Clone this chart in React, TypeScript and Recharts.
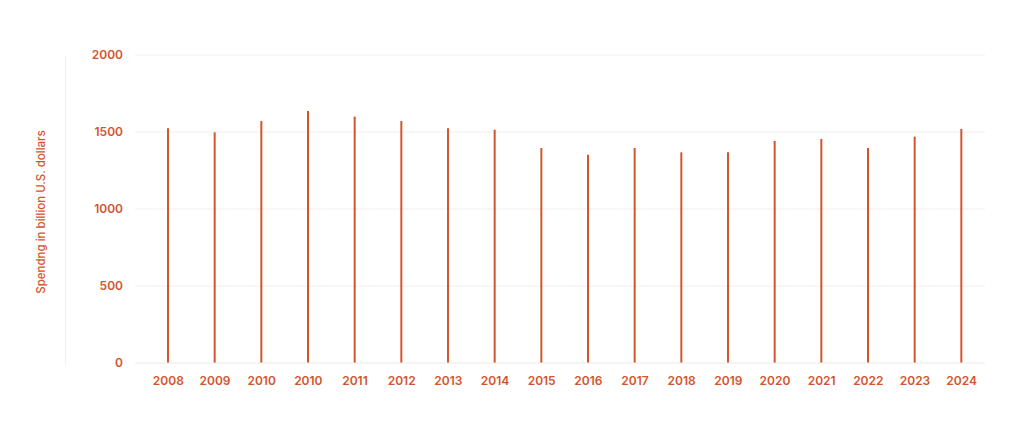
import { BarChart, Bar, XAxis, YAxis, CartesianGrid } from 'recharts';

const years = [
    '2008', '2009', '2010', '2010', '2011', '2012', '2013', '2014', '2015',
    '2016', '2017', '2018', '2019', '2020', '2021', '2022', '2023', '2024',
];
const spending = [
    1524, 1498, 1571, 1636, 1600, 1571, 1524, 1515, 1396,
    1353, 1396, 1368, 1368, 1442, 1455, 1396, 1470, 1520,
];
const yTicks = [0, 500, 1000, 1500, 2000];

const accent = '#d3552d';
const faint = '#f3efec';

export default function App() {
    const chartData = years.map((year, i) => ({ year, value: spending[i] }));

    return (
        <div style={{ position: 'absolute', left: 0, top: 0, width: 1024, height: 427, background: '#fff' }}>
            {/* faint rule on the left of the tick labels */}
            <div style={{ position: 'absolute', left: 65, top: 56, height: 309, borderLeft: `1px solid ${faint}` }} />
            <BarChart
                width={1024}
                height={427}
                data={chartData}
                margin={{ top: 55, right: 39, bottom: 34, left: 20 }}
                style={{ fontFamily: 'Inter, sans-serif' }}
            >
                <CartesianGrid vertical={false} stroke={faint} />
                <XAxis
                    dataKey="year"
                    height={30}
                    padding={{ left: 10, right: 0 }}
                    axisLine={{ stroke: faint }}
                    tickLine={false}
                    tickMargin={7}
                    interval={0}
                    tick={{ fill: accent, fontSize: 12, fontWeight: 600 }}
                />
                <YAxis
                    width={115}
                    domain={[0, 2000]}
                    ticks={yTicks}
                    axisLine={false}
                    tickLine={false}
                    tickMargin={6}
                    tick={{ fill: accent, fontSize: 12, fontWeight: 600 }}
                    label={{
                        value: 'Spendng in billion U.S. dollars',
                        angle: -90,
                        position: 'insideLeft',
                        offset: 21,
                        dy: 3,
                        style: { textAnchor: 'middle', fill: accent, fontSize: 11.5, fontWeight: 500 },
                    }}
                />
                <Bar dataKey="value" fill={accent} barSize={2} isAnimationActive={false} />
            </BarChart>
        </div>
    );
}
